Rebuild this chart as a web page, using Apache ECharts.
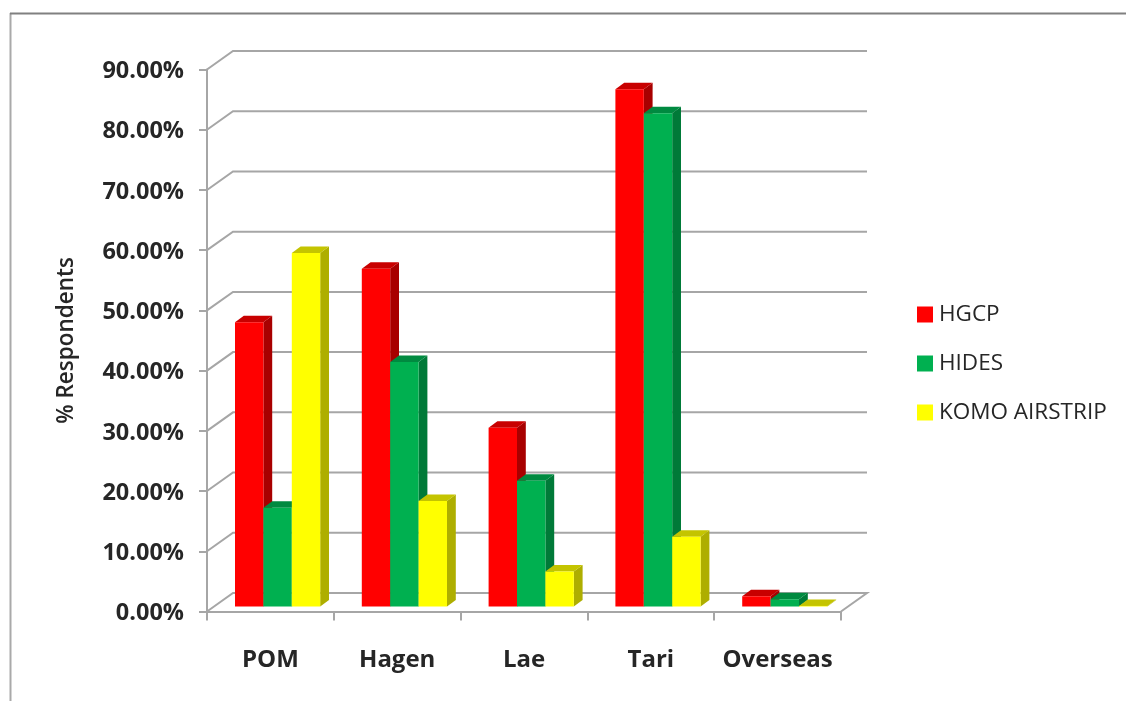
<!DOCTYPE html>
<html><head><meta charset="utf-8">
<script src="https://cdn.jsdelivr.net/npm/echarts@6/dist/echarts.min.js"></script>
<style>html,body{margin:0;padding:0;background:#fff}#c{width:1126px;height:701px;filter:blur(0.5px)}</style>
</head><body><div id="c"></div>
<script>
const categories = ['POM', 'Hagen', 'Lae', 'Tari', 'Overseas'];
const hgcp = [47.2, 56.1, 29.7, 85.9, 1.7];
const hides = [16.4, 40.6, 20.9, 81.9, 1.2];
const komo = [58.7, 17.5, 5.8, 11.6, 0.1];
const yTicks = [0, 10, 20, 30, 40, 50, 60, 70, 80, 90];

const WALL_DX = 26, WALL_DY = 18.5, BAR_DX = 8.8, BAR_DY = 6.5, BAR_OFF_Y = 5, BAR_W = 28.4, BAR_START = 28;
const GRID_COLOR = '#a6a6a6';

function wall(params, api) {
  const cs = params.coordSys, v = api.value(0);
  const y = api.coord([0, v])[1], x0 = cs.x, x1 = cs.x + cs.width;
  const style = {stroke: GRID_COLOR, lineWidth: 2, fill: null};
  const pts = [[x0, y], [x0 + WALL_DX, y - WALL_DY], [x1 + WALL_DX, y - WALL_DY]];
  if (v === 0) pts.push([x1, y]);
  return {type: 'polyline', shape: {points: pts}, style, silent: true};
}
function barRenderer(index, front, side, top) {
  return function (params, api) {
    const i = api.value(0), v = api.value(1);
    const c = api.coord([i, v]), base = api.coord([i, 0]);
    const band = api.size([1, 0])[0];
    const x = c[0] - band / 2 + BAR_START + index * BAR_W;
    const yT = c[1] - BAR_OFF_Y, yB = base[1] - BAR_OFF_Y, r = x + BAR_W;
    return {type: 'group', children: [
      {type: 'polygon', shape: {points: [[r, yT], [r + BAR_DX, yT - BAR_DY], [r + BAR_DX, yB - BAR_DY], [r, yB]]}, style: {fill: side}},
      {type: 'polygon', shape: {points: [[x, yT], [x + BAR_DX, yT - BAR_DY], [r + BAR_DX, yT - BAR_DY], [r, yT]]}, style: {fill: top}},
      {type: 'rect', shape: {x: x, y: yT, width: BAR_W, height: yB - yT}, style: {fill: front}}
    ]};
  };
}
function barSeries(name, values, index, front, side, top) {
  return {
    name, type: 'custom', coordinateSystem: 'cartesian2d', clip: false, z: 3,
    itemStyle: {color: front},
    encode: {x: 0, y: 1},
    data: values.map((v, i) => [i, v]),
    renderItem: barRenderer(index, front, side, top)
  };
}
const chart = echarts.init(document.getElementById('c'));
const FONT = '"Open Sans", sans-serif';
chart.setOption({
  animation: false,
  backgroundColor: '#fff',
  graphic: [
    {type: 'line', z: 10, shape: {x1: 10.5, y1: 13, x2: 10.5, y2: 701}, style: {stroke: '#a9a9a9', lineWidth: 2}},
    {type: 'line', z: 10, shape: {x1: 10, y1: 13.5, x2: 1126, y2: 13.5}, style: {stroke: '#808080', lineWidth: 2}}
  ],
  grid: {left: 207, right: 285, top: 69.5, bottom: 89.5},
  legend: {
    data: ['HGCP', 'HIDES', 'KOMO AIRSTRIP'], orient: 'vertical', left: 912, top: 298,
    icon: 'rect', itemWidth: 16, itemHeight: 16, itemGap: 26,
    textStyle: {fontFamily: FONT, fontSize: 22.5, color: '#262626', padding: [0, 0, 0, 1]}
  },
  xAxis: {
    type: 'category', data: categories,
    axisLine: {lineStyle: {color: GRID_COLOR, width: 2}},
    axisTick: {show: true, interval: 0, length: 9, lineStyle: {color: GRID_COLOR, width: 2}},
    axisLabel: {interval: 0, margin: 37, fontFamily: FONT, fontWeight: 'bold', fontSize: 24, color: '#262626'}
  },
  yAxis: {
    type: 'value', min: 0, max: 90, interval: 10,
    name: '% Respondents', nameLocation: 'middle', nameGap: 129,
    nameTextStyle: {fontFamily: FONT, fontSize: 22.5, fontWeight: 600, color: '#262626'},
    axisLine: {show: true, lineStyle: {color: GRID_COLOR, width: 2}},
    axisTick: {show: true, length: 8, lineStyle: {color: GRID_COLOR, width: 2}},
    splitLine: {show: false},
    axisLabel: {margin: 23,
      formatter: v => '{l|' + v.toFixed(2) + '%}',
      rich: {l: {padding: [4, 0, 0, 0], fontFamily: FONT, fontWeight: 'bold', fontSize: 23.5, color: '#262626'}}}
  },
  series: [
    {name: 'wall', type: 'custom', coordinateSystem: 'cartesian2d', clip: false, z: 1, silent: true,
      encode: {y: 0}, data: yTicks.map(v => [v]), renderItem: wall},
    barSeries('HGCP', hgcp, 0, '#ff0000', '#a80000', '#c80000'),
    barSeries('HIDES', hides, 1, '#00b050', '#007a38', '#008a40'),
    barSeries('KOMO AIRSTRIP', komo, 2, '#ffff00', '#aeae00', '#c4c400')
  ]
});
</script></body></html>
